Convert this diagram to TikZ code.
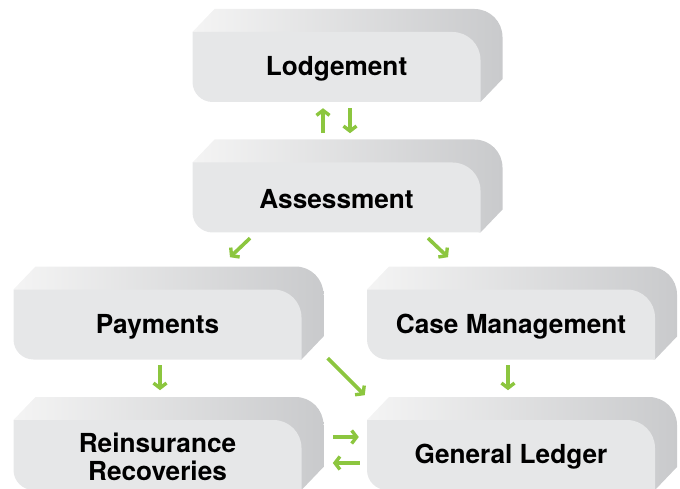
\documentclass[tikz,border=0pt]{standalone}
\usepackage{fontspec}
\setmainfont{TeX Gyre Heros}
\usetikzlibrary{arrows.meta,calc}
\definecolor{frontc}{HTML}{E6E7E8}
\definecolor{topL}{HTML}{F4F4F4}
\definecolor{sideR}{HTML}{C9CACC}
\definecolor{arrowg}{HTML}{8CC63F}
\tikzset{
  boxtext/.style={rectangle,minimum width=288pt,minimum height=70pt,inner sep=0pt,
    align=center,font=\bfseries\fontsize{26.2}{28}\selectfont,text=black},
  garrow/.style={draw=arrowg,line width=3.6pt,
    -{Straight Barb[length=5pt,width=13pt,line width=3.4pt]}},
}
\newcommand\gbox[4]{%
  \begin{scope}[shift={(#2,#3)}]
    \shade[left color=topL,right color=sideR]
      (-144,35) -- (-122,58) -- (138,58) arc[start angle=90,end angle=0,radius=28pt]
      -- (166,-12) -- (144,-35) -- cycle;
    \fill[frontc] (-144,35) -- (116,35) arc[start angle=90,end angle=0,radius=28pt]
      -- (144,-35) -- (-124,-35) arc[start angle=270,end angle=180,radius=20pt] -- cycle;
  \end{scope}
  \node[boxtext] (#1) at (#2,#3-2) {#4};
}
\begin{document}
\begin{tikzpicture}[x=1pt,y=1pt]
\useasboundingbox (0,0) rectangle (680,488);
\clip (0,0) rectangle (680,488);
\gbox{lodg}{336.5}{421}{Lodgement}
\gbox{assess}{336.5}{290.5}{Assessment}
\gbox{pay}{157.5}{163.5}{Payments}
\gbox{case}{511}{163.5}{Case Management}
\gbox{reins}{157.5}{33}{Reinsurance\\Recoveries}
\gbox{gl}{511}{33}{General Ledger}
% Lodgement <-> Assessment
\draw[garrow] ($(lodg.south)+(-13.5,-29)$) -- ($(lodg.south)+(-13.5,-4)$);
\draw[garrow] ($(lodg.south)+(13.5,-4)$) -- ($(lodg.south)+(13.5,-29)$);
% Assessment -> Payments / Case
\draw[garrow] ($(assess.south)+(-86.5,-3.5)$) -- ($(assess.south)+(-106.5,-22.5)$);
\draw[garrow] ($(assess.south)+(91.5,-3.5)$) -- ($(assess.south)+(111.5,-22.5)$);
% Payments -> Reinsurance
\draw[garrow] ($(pay.south)+(2.5,-3.5)$) -- ($(pay.south)+(2.5,-28.5)$);
% Payments -> General Ledger
\draw[garrow] ($(pay.south east)+(26,3.5)$) -- ($(pay.south east)+(63,-33.5)$);
% Reinsurance <-> General Ledger
\draw[garrow] ($(gl.west)+(-34,20)$) -- ($(gl.west)+(-8,20)$);
\draw[garrow] ($(gl.west)+(-7,-6)$) -- ($(gl.west)+(-34,-6)$);
% Case -> General Ledger
\draw[garrow] ($(case.south)+(-3,-3.5)$) -- ($(case.south)+(-3,-28.5)$);
\end{tikzpicture}
\end{document}
